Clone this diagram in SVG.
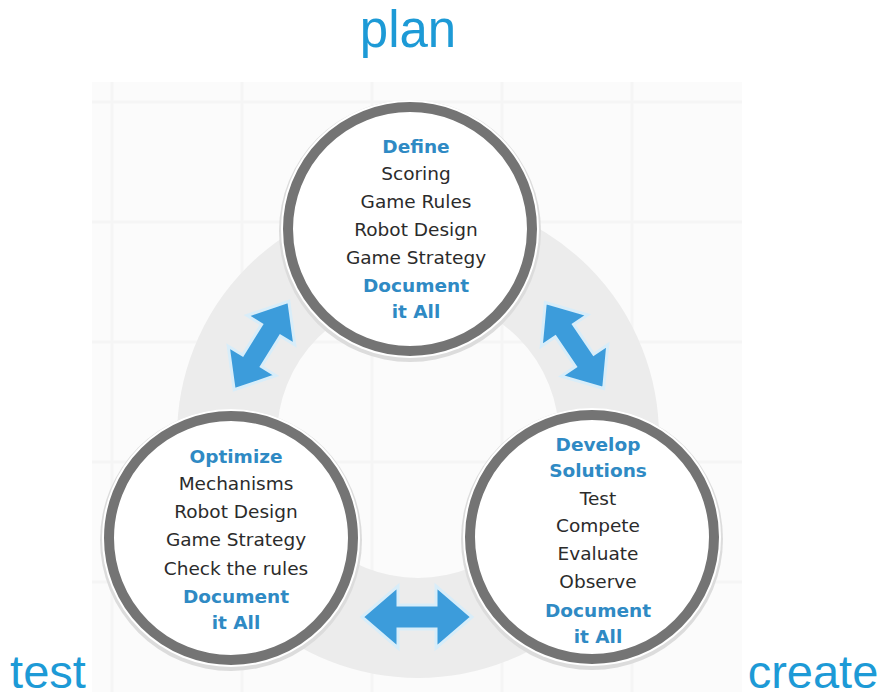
<svg xmlns="http://www.w3.org/2000/svg" width="882" height="700" viewBox="0 0 882 700">
  <defs>
    <style>
      .label { font-family: "Liberation Sans", Arial, sans-serif; fill: #1d9ad6; text-anchor: middle; }
      .item { font-family: "DejaVu Sans", "Liberation Sans", sans-serif; font-size: 18.5px; fill: #2b2b2b; text-anchor: middle; }
      .head { font-family: "DejaVu Sans", "Liberation Sans", sans-serif; font-size: 18.5px; font-weight: bold; fill: #2f8ac4; text-anchor: middle; }
      .ring { fill: #ffffff; stroke: #747474; stroke-width: 10; }
      .halo { fill: #dcdcdc; }
      .rim { fill: #ffffff; }
      .arrow { fill: #3c9cdb; stroke: #d8edf9; stroke-width: 3; stroke-linejoin: miter; }
      .grid { stroke: #f5f5f5; stroke-width: 3; }
    </style>
    <!-- double-headed arrow, centred on the origin, pointing along x -->
    <path id="dbl" d="M -52,0 L -18,-28 L -18,-11 L 18,-11 L 18,-28 L 52,0 L 18,28 L 18,11 L -18,11 L -18,28 Z"/>
    <path id="dblWide" d="M -55,0 L -19,-31 L -19,-12 L 19,-12 L 19,-31 L 55,0 L 19,31 L 19,12 L -19,12 L -19,31 Z"/>
  </defs>

  <rect width="882" height="700" fill="#ffffff"/>

  <!-- faint backdrop panel with grid -->
  <g id="backdrop">
    <rect x="92" y="82" width="650" height="610" fill="#fbfbfb"/>
    <g class="grid">
      <line x1="112" y1="82" x2="112" y2="692"/>
      <line x1="242" y1="82" x2="242" y2="692"/>
      <line x1="372" y1="82" x2="372" y2="692"/>
      <line x1="502" y1="82" x2="502" y2="692"/>
      <line x1="632" y1="82" x2="632" y2="692"/>
      <line x1="92" y1="102" x2="742" y2="102"/>
      <line x1="92" y1="222" x2="742" y2="222"/>
      <line x1="92" y1="342" x2="742" y2="342"/>
      <line x1="92" y1="462" x2="742" y2="462"/>
      <line x1="92" y1="582" x2="742" y2="582"/>
    </g>
    <!-- wide grey cycle band behind the stages -->
    <circle cx="418" cy="437" r="191" fill="none" stroke="#ececec" stroke-width="100"/>
  </g>

  <!-- connectors between stages -->
  <g id="connectors">
    <use href="#dbl" class="arrow" transform="translate(261.5 345.5) rotate(-58.3)"/>
    <use href="#dbl" class="arrow" transform="translate(574.5 345.5) rotate(55.9)"/>
    <use href="#dblWide" class="arrow" transform="translate(417 617)"/>
  </g>

  <!-- plan stage -->
  <g id="node-define">
    <circle class="halo" cx="410" cy="231" r="131"/>
    <circle class="rim" cx="410" cy="229" r="129"/>
    <circle class="ring" cx="410" cy="229" r="122"/>
    <text class="head" x="416" y="153">Define</text>
    <text class="item" x="416" y="180">Scoring</text>
    <text class="item" x="416" y="208">Game Rules</text>
    <text class="item" x="416" y="236">Robot Design</text>
    <text class="item" x="416" y="264">Game Strategy</text>
    <text class="head" x="416" y="292">Document</text>
    <text class="head" x="416" y="318">it All</text>
  </g>

  <!-- test stage -->
  <g id="node-optimize">
    <circle class="halo" cx="231" cy="540" r="131"/>
    <circle class="rim" cx="231" cy="538" r="129"/>
    <circle class="ring" cx="231" cy="538" r="122"/>
    <text class="head" x="236" y="463">Optimize</text>
    <text class="item" x="236" y="490">Mechanisms</text>
    <text class="item" x="236" y="518">Robot Design</text>
    <text class="item" x="236" y="546">Game Strategy</text>
    <text class="item" x="236" y="575">Check the rules</text>
    <text class="head" x="236" y="603">Document</text>
    <text class="head" x="236" y="629">it All</text>
  </g>

  <!-- create stage -->
  <g id="node-develop">
    <circle class="halo" cx="592" cy="539" r="131"/>
    <circle class="rim" cx="592" cy="537" r="129"/>
    <circle class="ring" cx="592" cy="537" r="122"/>
    <text class="head" x="598" y="451">Develop</text>
    <text class="head" x="598" y="477">Solutions</text>
    <text class="item" x="598" y="505">Test</text>
    <text class="item" x="598" y="532">Compete</text>
    <text class="item" x="598" y="560">Evaluate</text>
    <text class="item" x="598" y="588">Observe</text>
    <text class="head" x="598" y="617">Document</text>
    <text class="head" x="598" y="643">it All</text>
  </g>

  <!-- phase labels -->
  <g id="labels">
    <text class="label" x="408" y="47" font-size="51">plan</text>
    <text class="label" x="48" y="688" font-size="47">test</text>
    <text class="label" x="813" y="688" font-size="47">create</text>
  </g>
</svg>
